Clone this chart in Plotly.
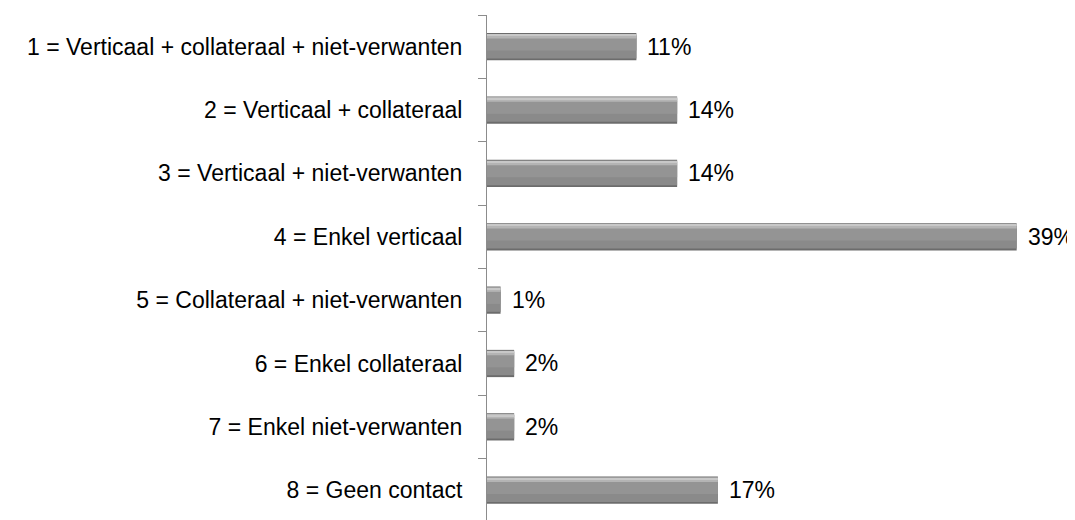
import plotly.graph_objects as go

categories = [
    "1 = Verticaal + collateraal + niet-verwanten",
    "2 = Verticaal + collateraal",
    "3 = Verticaal + niet-verwanten",
    "4 = Enkel verticaal",
    "5 = Collateraal + niet-verwanten",
    "6 = Enkel collateraal",
    "7 = Enkel niet-verwanten",
    "8 = Geen contact",
]
values = [11, 14, 14, 39, 1, 2, 2, 17]
value_labels = ["11%", "14%", "14%", "39%", "1%", "2%", "2%", "17%"]

FONT = "Liberation Sans, Arial, Helvetica, sans-serif"

fig = go.Figure()

# layered bars to mimic the bevelled gray look
layers = [
    # (offset, width, color)
    (-0.215, 0.43, "#6c6c6c"),
    (-0.185, 0.37, "#8a8a8a"),
    (-0.06, 0.2, "#949494"),
    (0.13, 0.06, "#b4b4b4"),
    (0.17, 0.03, "#c8c8c8"),
]
for off, w, col in layers:
    fig.add_trace(go.Bar(
        x=values, y=categories, orientation="h",
        offset=off, width=w,
        marker=dict(color=col, line=dict(width=0)),
        hoverinfo="skip", showlegend=False,
    ))

for cat, v, lab in zip(categories, values, value_labels):
    fig.add_annotation(
        x=v, y=cat, text=lab, showarrow=False,
        xanchor="left", yanchor="middle", xshift=9,
        font=dict(family=FONT, size=23, color="#000000"),
    )

fig.update_layout(
    width=1067, height=512,
    margin=dict(l=479, r=4, t=7, b=0),
    paper_bgcolor="white", plot_bgcolor="white",
    barmode="overlay",
    font=dict(family=FONT, size=23, color="#000000"),
    xaxis=dict(range=[0, 43], visible=False, showgrid=False, zeroline=False),
    yaxis=dict(
        type="category",
        categoryorder="array", categoryarray=categories[::-1],
        range=[-0.47, 7.5],
        showline=True, linecolor="#8c8c8c", linewidth=1,
        ticks="outside", tickson="boundaries", ticklen=8, tickcolor="#8c8c8c",
        ticklabelstandoff=19,
        showgrid=False, zeroline=False,
        tickfont=dict(family=FONT, size=23, color="#000000"),
    ),
)

fig.write_html("out.html")
